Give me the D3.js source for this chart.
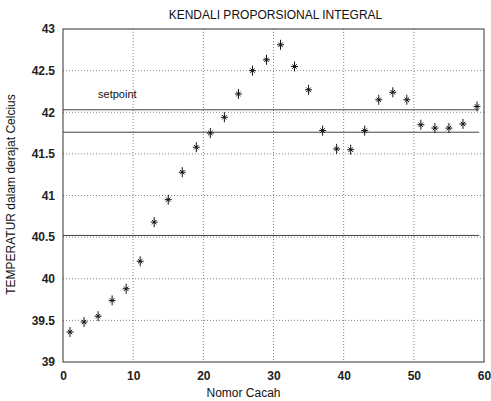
<!DOCTYPE html>
<html>
<head>
<meta charset="utf-8">
<script src="https://cdn.jsdelivr.net/npm/d3@7"></script>
<style>
  body { margin: 0; background: #fff; }
  text { font-family: "Liberation Sans", Arial, sans-serif; }
</style>
</head>
<body>
<div id="my_dataviz"></div>
<script>
// data
const nomor = [1, 3, 5, 7, 9, 11, 13, 15, 17, 19, 21, 23, 25, 27, 29,
               31, 33, 35, 37, 39, 41, 43, 45, 47, 49, 51, 53, 55, 57, 59];
const temperatur = [39.36, 39.48, 39.55, 39.74, 39.88, 40.21, 40.68, 40.95, 41.28, 41.58,
                    41.75, 41.94, 42.22, 42.50, 42.63, 42.81, 42.55, 42.27, 41.78, 41.56,
                    41.55, 41.78, 42.15, 42.24, 42.15, 41.85, 41.81, 41.81, 41.86, 42.07];
const garis = [42.03, 41.76, 40.52];   // drawn reference lines
const xTicks = [0, 10, 20, 30, 40, 50, 60];
const yTicks = [39, 39.5, 40, 40.5, 41, 41.5, 42, 42.5, 43];

const margin = {top: 29, right: 7, bottom: 39, left: 63},
    width = 491 - margin.left - margin.right,
    height = 401 - margin.top - margin.bottom;

const svg = d3.select("#my_dataviz")
  .append("svg")
    .attr("width", 491)
    .attr("height", 401)
  .append("g")
    .attr("transform", `translate(${margin.left},${margin.top})`);

const x = d3.scaleLinear().domain([0, 60]).range([0, width]);
const y = d3.scaleLinear().domain([39, 43]).range([height, 0]);

// dotted grid
svg.append("g").selectAll("line").data(xTicks.slice(1, -1)).join("line")
  .attr("x1", d => x(d)).attr("x2", d => x(d)).attr("y1", 0).attr("y2", height)
  .attr("stroke", "#666").attr("stroke-width", 0.8).attr("stroke-dasharray", "1,2");
svg.append("g").selectAll("line").data(yTicks.slice(1, -1)).join("line")
  .attr("y1", d => y(d)).attr("y2", d => y(d)).attr("x1", 0).attr("x2", width)
  .attr("stroke", "#666").attr("stroke-width", 0.8).attr("stroke-dasharray", "1,2");

// axes
const xAxis = svg.append("g")
  .attr("transform", `translate(0, ${height})`)
  .call(d3.axisBottom(x).tickValues(xTicks).tickFormat(d3.format("~g")).tickSize(0).tickPadding(9));
const yAxis = svg.append("g")
  .call(d3.axisLeft(y).tickValues(yTicks).tickFormat(d3.format("~g")).tickSize(0).tickPadding(8));
[xAxis, yAxis].forEach(a => {
  a.select(".domain").remove();
  a.selectAll("text").style("font-size", "12px").style("font-weight", "bold")
    .attr("fill", "#222").style("font-family", "'Liberation Sans', Arial, sans-serif");
});

// box
svg.append("rect").attr("width", width).attr("height", height)
  .attr("fill", "none").attr("stroke", "#333").attr("stroke-width", 1);

// setpoint lines
svg.append("g").selectAll("line").data(garis).join("line")
  .attr("x1", x(0)).attr("x2", x(59.3))
  .attr("y1", d => y(d)).attr("y2", d => y(d))
  .attr("stroke", "#444").attr("stroke-width", 1);

svg.append("text").attr("x", x(5)).attr("y", y(42.17))
  .text("setpoint").style("font-size", "11px").attr("fill", "#111");

// star markers like the matlab '*'
const bintang = {
  draw(ctx, size) {
    const v = 5, h = 3.5, dg = 2.2;
    ctx.moveTo(0, -v); ctx.lineTo(0, v);
    ctx.moveTo(-h, 0); ctx.lineTo(h, 0);
    ctx.moveTo(-dg, -dg); ctx.lineTo(dg, dg);
    ctx.moveTo(-dg, dg); ctx.lineTo(dg, -dg);
  }
};
const star = d3.symbol().type(bintang);
svg.append("g").selectAll("path").data(nomor).join("path")
  .attr("d", star)
  .attr("transform", (d, i) => `translate(${x(d)},${y(temperatur[i])})`)
  .attr("fill", "none").attr("stroke", "#111").attr("stroke-width", 1);

// titles
svg.append("text").attr("x", width / 2 + 2).attr("y", -10)
  .attr("text-anchor", "middle").text("KENDALI PROPORSIONAL INTEGRAL")
  .style("font-size", "12px").attr("fill", "#111");
svg.append("text").attr("x", width / 2 - 30).attr("y", height + 35)
  .attr("text-anchor", "middle").text("Nomor Cacah")
  .style("font-size", "12px").attr("fill", "#111");
svg.append("text").attr("transform", "rotate(-90)")
  .attr("x", -height / 2 + 1).attr("y", -48)
  .attr("text-anchor", "middle").text("TEMPERATUR dalam derajat Celcius")
  .style("font-size", "12px").attr("fill", "#111");
</script>
</body>
</html>
